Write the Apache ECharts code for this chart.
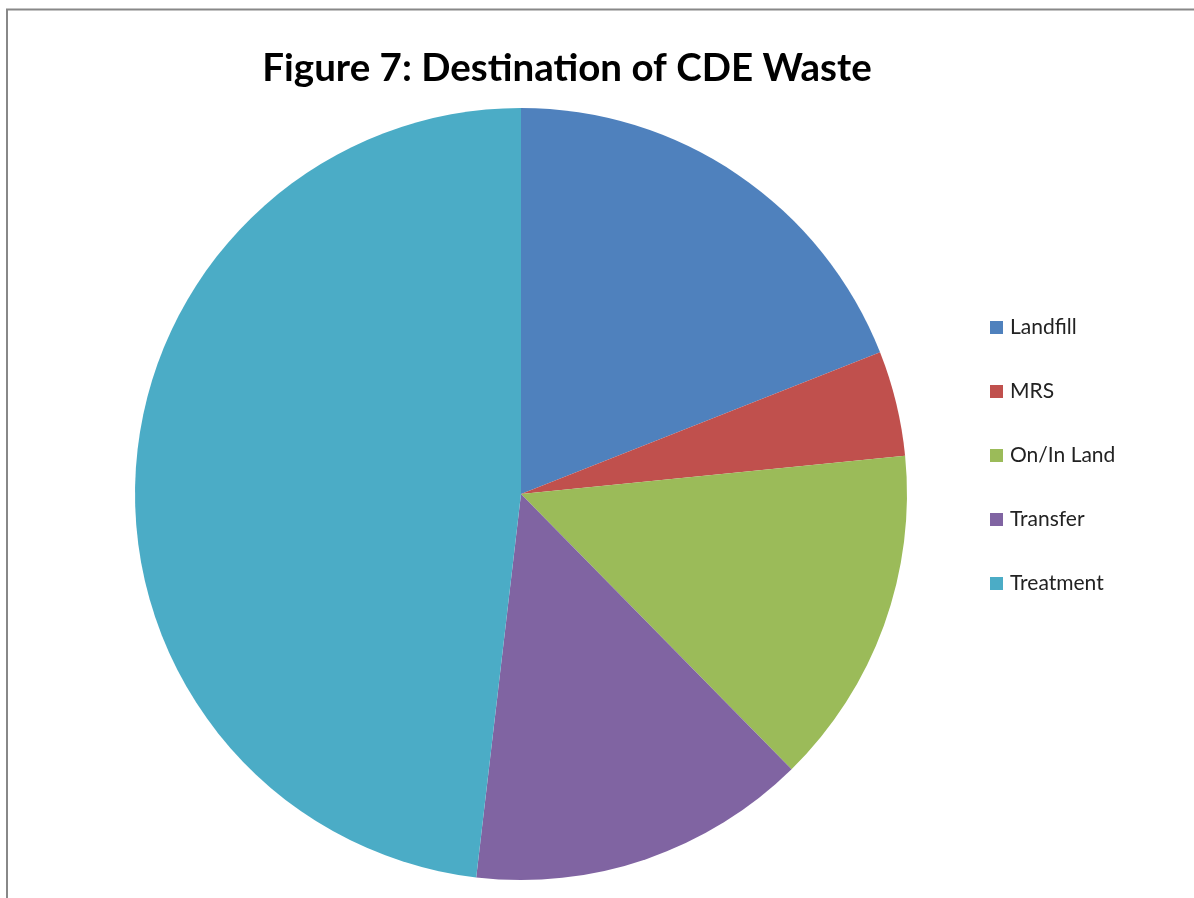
<!DOCTYPE html>
<html>
<head>
<meta charset="utf-8">
<script src="https://cdn.jsdelivr.net/npm/echarts@6/dist/echarts.min.js"></script>
<style>
html,body{margin:0;padding:0;background:#fff;}
#chart{width:1194px;height:898px;}
</style>
</head>
<body>
<div id="chart"></div>
<script>
var categories = ['Landfill', 'MRS', 'On/In Land', 'Transfer', 'Treatment'];
var shares = [19.0, 4.4, 14.2, 14.2, 48.1];
var colors = ['#4F81BD', '#C0504D', '#9BBB59', '#8064A2', '#4BACC6'];
var titleText = 'Figure 7: Destination of CDE Waste';

var chart = echarts.init(document.getElementById('chart'));
var data = categories.map(function (c, i) {
  return { name: c, value: shares[i], itemStyle: { color: colors[i] } };
});
chart.setOption({
  backgroundColor: '#ffffff',
  animation: false,
  graphic: [{
    type: 'rect',
    shape: { x: 7, y: 9.5, width: 1300, height: 1000 },
    style: { fill: 'none', stroke: '#888888', lineWidth: 2 },
    silent: true
  }],
  title: {
    text: titleText,
    left: 562,
    top: 44,
    textAlign: 'center',
    textStyle: { fontFamily: 'Lato', fontWeight: 'bold', fontSize: 38.5, color: '#000' }
  },
  legend: {
    orient: 'vertical',
    left: 985,
    top: 312,
    itemWidth: 13,
    itemHeight: 13,
    itemGap: 43,
    icon: 'rect',
    data: categories,
    textStyle: { fontFamily: 'Lato', fontSize: 21, color: '#222', lineHeight: 21, padding: [0, 0, 0, 2] }
  },
  series: [{
    type: 'pie',
    center: [521, 494],
    radius: 386,
    startAngle: 90,
    clockwise: true,
    label: { show: false },
    labelLine: { show: false },
    itemStyle: { borderWidth: 0 },
    emphasis: { disabled: true },
    data: data
  }]
});
</script>
</body>
</html>
